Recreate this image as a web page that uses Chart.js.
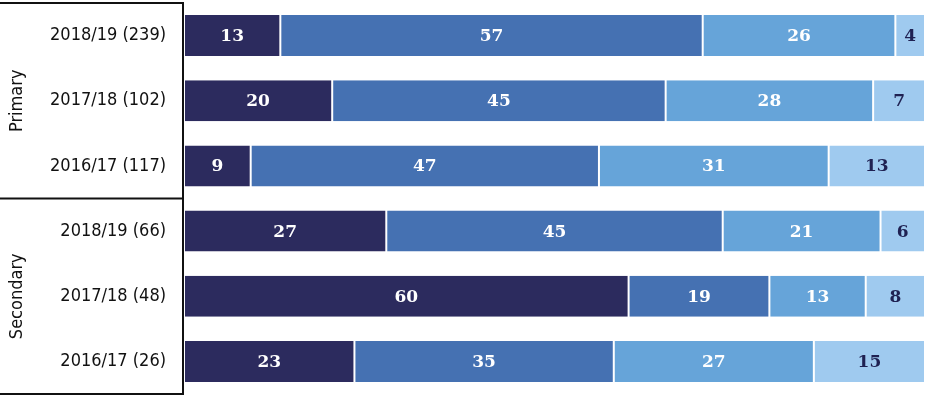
<!DOCTYPE html>
<html>
<head>
<meta charset="utf-8">
<script src="https://cdn.jsdelivr.net/npm/chart.js@4"></script>
<style>
  html, body { margin: 0; padding: 0; background: #ffffff; }
  #wrap { width: 928px; height: 396px; }
</style>
</head>
<body>
<div id="wrap"><canvas id="chart" width="928" height="396"></canvas></div>
<script>
// ============================================
// DATA
// ============================================
const rowLabels = ['2018/19 (239)', '2017/18 (102)', '2016/17 (117)', '2018/19 (66)', '2017/18 (48)', '2016/17 (26)'];
const groupNames = ['Primary', 'Secondary'];
const groupSizes = [3, 3];

// shown as rounded whole numbers; 2018/19 secondary read with decimals (its rounded labels add to 99)
const band1 = [13, 20, 9, 27.3, 60, 23];
const band2 = [57, 45, 47, 45.4, 19, 35];
const band3 = [26, 28, 31, 21.3, 13, 27];
const band4 = [4, 7, 13, 6.0, 8, 15];

const bandColors = ['#2c2b5e', '#4571b2', '#66a4d9', '#9fcaef'];
const labelColors = ['#ffffff', '#ffffff', '#ffffff', '#1f2152'];

const labelFont = '"DejaVu Sans Condensed", "Noto Sans", sans-serif';
const valueFont = '"DejaVu Serif", serif';

// ============================================
// PLUGINS
// ============================================
// value text centred inside each segment
const segmentLabels = {
  id: 'segmentLabels',
  afterDatasetsDraw(chart) {
    const ctx = chart.ctx;
    ctx.save();
    ctx.font = 'bold 17px ' + valueFont;
    ctx.textAlign = 'center';
    ctx.textBaseline = 'middle';
    chart.data.datasets.forEach((ds, i) => {
      chart.getDatasetMeta(i).data.forEach((bar, j) => {
        const p = bar.getProps(['x', 'y', 'base'], true);
        ctx.fillStyle = labelColors[i];
        ctx.fillText(String(Math.round(ds.data[j])), (p.x + p.base) / 2, p.y + 1);
      });
    });
    ctx.restore();
  }
};

// frame on the left with rotated group names
const groupFrame = {
  id: 'groupFrame',
  afterDraw(chart) {
    const ctx = chart.ctx;
    const y = chart.scales.y;
    const left = chart.chartArea.left - 1;
    const step = y.getPixelForValue(1) - y.getPixelForValue(0);
    ctx.save();
    ctx.strokeStyle = '#111111';
    ctx.lineWidth = 2;

    // horizontal separators
    let idx = 0;
    const edges = [y.getPixelForValue(0) - step / 2];
    groupSizes.forEach(n => {
      idx += n;
      edges.push(y.getPixelForValue(idx - 1) + step / 2);
    });
    edges.forEach(py => {
      ctx.beginPath();
      ctx.moveTo(0, py);
      ctx.lineTo(left, py);
      ctx.stroke();
    });
    ctx.beginPath();
    ctx.moveTo(left, edges[0] - 1);
    ctx.lineTo(left, edges[edges.length - 1] + 1);
    ctx.stroke();

    // rotated group names
    ctx.fillStyle = '#111111';
    ctx.font = '18px ' + labelFont;
    ctx.textAlign = 'center';
    ctx.textBaseline = 'middle';
    groupNames.forEach((name, g) => {
      const cy = (edges[g] + edges[g + 1]) / 2;
      ctx.save();
      ctx.translate(17, cy);
      ctx.rotate(-Math.PI / 2);
      ctx.fillText(name, 0, 0);
      ctx.restore();
    });
    ctx.restore();
  }
};

// ============================================
// CHART
// ============================================
const bands = [band1, band2, band3, band4];

new Chart(document.getElementById('chart'), {
  type: 'bar',
  data: {
    labels: rowLabels,
    datasets: bands.map((vals, i) => ({
      data: vals,
      backgroundColor: bandColors[i],
      borderColor: '#ffffff',
      borderWidth: { left: 1, right: 1, top: 0, bottom: 0 },
      borderSkipped: false,
      barPercentage: 0.63,
      categoryPercentage: 1
    }))
  },
  options: {
    indexAxis: 'y',
    responsive: false,
    animation: false,
    devicePixelRatio: 1,
    layout: { padding: { top: 3, bottom: 2, left: 0, right: 3 } },
    plugins: { legend: { display: false }, tooltip: { enabled: false } },
    scales: {
      x: { stacked: true, min: 0, max: 100, display: false },
      y: {
        stacked: true,
        grid: { display: false, drawTicks: false },
        border: { display: false },
        ticks: { color: '#111111', font: { family: labelFont, size: 18 }, padding: 18 },
        afterFit(scale) {
          scale.width = 184;
          scale.paddingTop = 0;
          scale.paddingBottom = 0;
        }
      }
    }
  },
  plugins: [segmentLabels, groupFrame]
});
</script>
</body>
</html>
